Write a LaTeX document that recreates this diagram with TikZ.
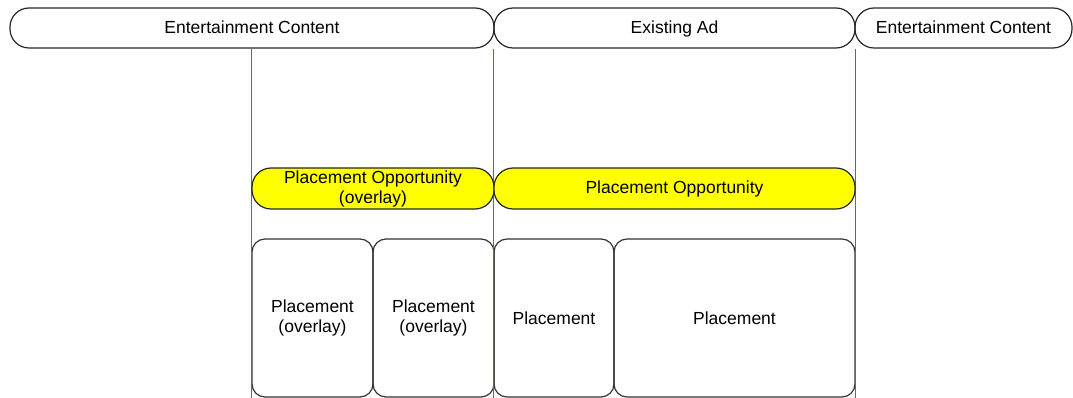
\documentclass[tikz,border=0pt]{standalone}
\usepackage{fontspec}
\setmainfont{Liberation Sans}
\definecolor{markerblue}{RGB}{60,110,200}
\definecolor{oppyellow}{RGB}{255,255,0}
\begin{document}
\begin{tikzpicture}[x=1pt, y=-1pt,
    font=\fontsize{17.5}{20}\selectfont,
    bar/.style={draw=black!85, line width=1.2pt, rounded corners=19pt, minimum height=40pt, inner sep=2pt},
    opp/.style={bar, fill=oppyellow, minimum height=41pt, align=center},
    slot/.style={draw=black!80, line width=1.2pt, rounded corners=13pt, minimum height=158pt, align=center, inner sep=2pt},
    marker/.style={markerblue, line width=1.1pt}]
    \useasboundingbox (0,0) rectangle (1073,398);

    % Timeline
    \node[bar, minimum width=484pt, text height=13pt, text depth=2.4pt] (ecleft) at (252,28) {Entertainment Content};
    \node[bar, minimum width=361pt, text height=13pt, text depth=2.4pt] (ad) at (674.5,28) {Existing Ad};
    \node[bar, minimum width=217pt, text height=13pt, text depth=2.4pt] (ecright) at (963.5,28) {Entertainment Content};

    % Placements
    \node[slot, minimum width=121pt] (pl1) at (312.5,318) {Placement\\(overlay)};
    \node[slot, minimum width=121pt] (pl2) at (433.5,318) {Placement\\(overlay)};
    \node[slot, minimum width=120pt] (pl3) at (554,318) {Placement};
    \node[slot, minimum width=241pt] (pl4) at (734.5,318) {Placement};

    % Boundary markers
    \draw[marker] (ecleft.south -| pl1.west) -- (pl1.south west);
    \draw[marker] (ad.south west) -- (pl3.south west);
    \draw[marker] (ad.south east) -- (pl4.south east);

    % Opportunities
    \node[opp, minimum width=242pt] (po1) at (373,188.5) {Placement Opportunity\\(overlay)};
    \node[opp, minimum width=361pt] (po2) at (674.5,188.5) {Placement Opportunity};
\end{tikzpicture}
\end{document}
